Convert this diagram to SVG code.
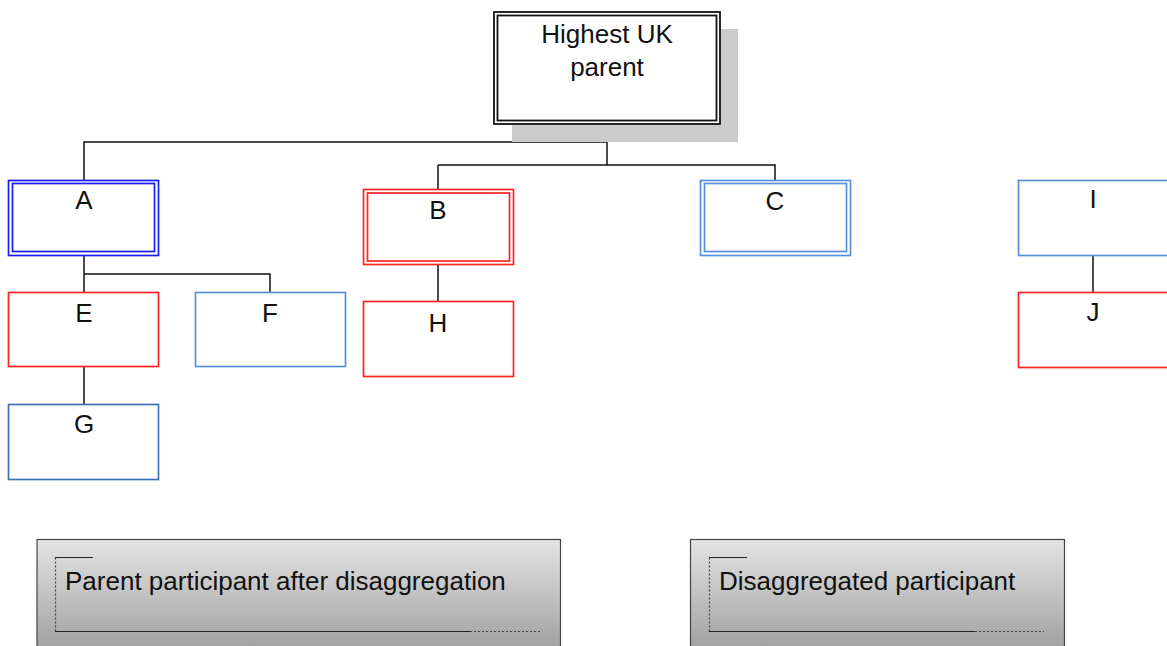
<svg xmlns="http://www.w3.org/2000/svg" width="1167" height="646" viewBox="0 0 1167 646">
  <defs>
    <linearGradient id="legendFill" x1="0" y1="0" x2="0" y2="1">
      <stop offset="0" stop-color="#e4e4e4"/>
      <stop offset="1" stop-color="#9a9a9a"/>
    </linearGradient>
    <style>
      .lbl { font-family: "Liberation Sans", Arial, sans-serif; font-size: 26px; fill: #111; text-anchor: middle; }
      .leg { font-family: "Liberation Sans", Arial, sans-serif; font-size: 26px; fill: #111; }
      .box { fill: #fff; stroke-width: 1.7; }
      .inner { fill: none; stroke-width: 1.7; }
      .red { stroke: #ff2020; }
      .blue { stroke: #1a1aff; }
      .sky { stroke: #5a8fdc; }
      .navy { stroke: #3f6fb5; }
      .conn { fill: none; stroke: #111; stroke-width: 1.5; }
      .lg-solid { fill: none; stroke: #222; stroke-width: 1.2; }
      .lg-dot { fill: none; stroke: #444; stroke-width: 1.2; stroke-dasharray: 2 2; }
    </style>
  </defs>

  <!-- connectors -->
  <g id="connectors" class="conn">
    <path d="M607,124 V165"/>
    <path d="M607,142 H84 V180"/>
    <path d="M438,165 H775 V180"/>
    <path d="M438,165 V189"/>
    <path d="M84,255 V292"/>
    <path d="M84,274 H270 V292"/>
    <path d="M84,367 V404"/>
    <path d="M438,265 V301"/>
    <path d="M1093,255 V292"/>
  </g>

  <!-- top node with drop shadow -->
  <g id="node-top">
    <rect x="512" y="29" width="226" height="113" fill="#cbcbcb"/>
    <rect x="494" y="12" width="226" height="112" fill="#fff" stroke="#111" stroke-width="1.8"/>
    <rect x="497.5" y="15.5" width="219" height="105" fill="none" stroke="#111" stroke-width="1.8"/>
    <text class="lbl" x="607" y="43">Highest UK</text>
    <text class="lbl" x="607" y="76">parent</text>
  </g>

  <g id="node-A">
    <rect class="box blue" x="8.5" y="180.5" width="150" height="75"/>
    <rect class="inner blue" x="12.5" y="183.5" width="142" height="68"/>
    <text class="lbl" x="84" y="209">A</text>
  </g>

  <g id="node-B">
    <rect class="box red" x="363.5" y="189.5" width="150" height="75"/>
    <rect class="inner red" x="367.5" y="193" width="142" height="68"/>
    <text class="lbl" x="438" y="219">B</text>
  </g>

  <g id="node-C">
    <rect class="box sky" x="700.5" y="180.5" width="150" height="75"/>
    <rect class="inner sky" x="704.5" y="183.5" width="142" height="68"/>
    <text class="lbl" x="775" y="210">C</text>
  </g>

  <g id="node-I">
    <rect class="box sky" x="1018.5" y="180.5" width="150" height="75"/>
    <text class="lbl" x="1093" y="208">I</text>
  </g>

  <g id="node-E">
    <rect class="box red" x="8.5" y="292.5" width="150" height="74"/>
    <text class="lbl" x="84" y="322">E</text>
  </g>

  <g id="node-F">
    <rect class="box sky" x="195.5" y="292.5" width="150" height="74"/>
    <text class="lbl" x="270" y="322">F</text>
  </g>

  <g id="node-H">
    <rect class="box red" x="363.5" y="301.5" width="150" height="75"/>
    <text class="lbl" x="438" y="332">H</text>
  </g>

  <g id="node-J">
    <rect class="box red" x="1018.5" y="292.5" width="150" height="75"/>
    <text class="lbl" x="1093" y="321">J</text>
  </g>

  <g id="node-G">
    <rect class="box navy" x="8.5" y="404.5" width="150" height="75"/>
    <text class="lbl" x="84" y="433">G</text>
  </g>

  <!-- legend -->
  <g id="legend-parent">
    <rect x="37" y="539.5" width="523.5" height="120" fill="url(#legendFill)" stroke="#444" stroke-width="1.2"/>
    <path class="lg-solid" d="M55,557.5 H93"/>
    <path class="lg-dot" d="M55.5,557.5 V631.5"/>
    <path class="lg-solid" d="M55,631.5 H470"/>
    <path class="lg-dot" d="M470,631.5 H540"/>
    <text class="leg" x="65" y="590">Parent participant after disaggregation</text>
  </g>

  <g id="legend-disaggregated">
    <rect x="690.5" y="539.5" width="374" height="120" fill="url(#legendFill)" stroke="#444" stroke-width="1.2"/>
    <path class="lg-solid" d="M709,557.5 H747"/>
    <path class="lg-dot" d="M709.5,557.5 V631.5"/>
    <path class="lg-solid" d="M709,631.5 H975"/>
    <path class="lg-dot" d="M975,631.5 H1044"/>
    <text class="leg" x="719" y="590">Disaggregated participant</text>
  </g>
</svg>
